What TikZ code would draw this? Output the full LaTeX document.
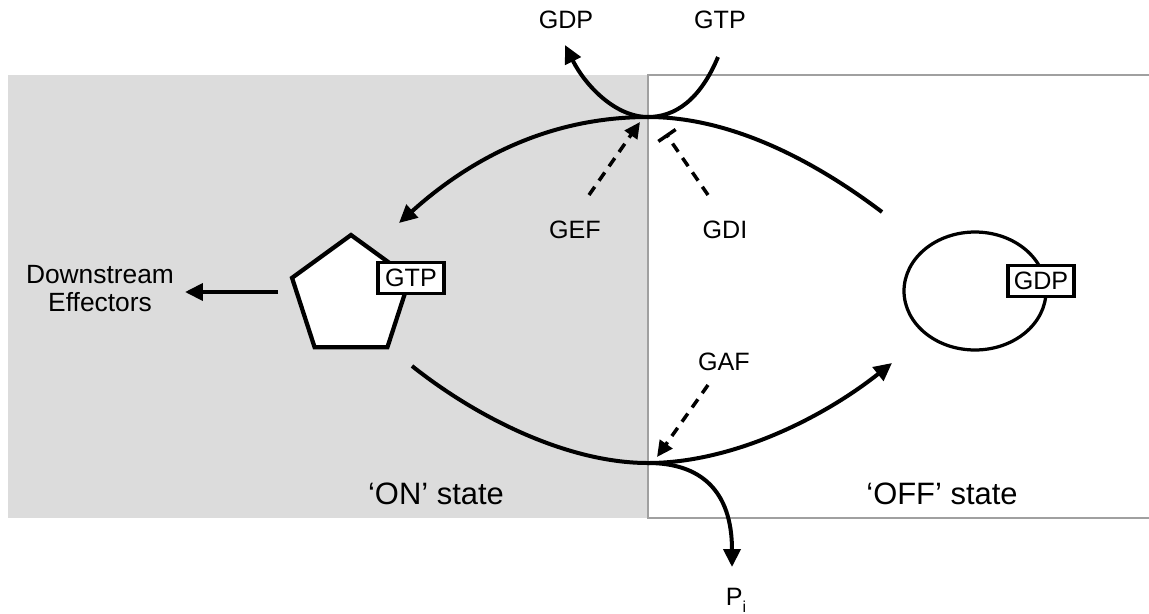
\documentclass[tikz,border=0pt]{standalone}
\usepackage{fontspec}
\setmainfont{Liberation Sans}
\usetikzlibrary{arrows.meta,shapes.geometric}

\definecolor{onshade}{RGB}{220,220,220}
\definecolor{frameline}{RGB}{160,160,160}

\tikzset{
	flow/.style={line width=0.08cm, -{Triangle[length=0.36cm,width=0.34cm]}},
	plain/.style={line width=0.08cm},
	regarrow/.style={line width=0.07cm, dash pattern=on 0.2cm off 0.15cm, -{Triangle[length=0.32cm,width=0.3cm]}},
	regbar/.style={line width=0.07cm, dash pattern=on 0.2cm off 0.15cm, -{Bar[width=0.42cm,line width=0.07cm]}},
	lbl/.style={inner sep=0pt, font=\fontsize{14.3}{16.5}\selectfont},
	statelbl/.style={inner sep=0pt, font=\fontsize{17.6}{20}\selectfont},
	nucbox/.style={draw, fill=white, line width=0.075cm, minimum width=1.32cm, minimum height=0.62cm, inner sep=0pt, font=\fontsize{14.3}{16.5}\selectfont}
}

\begin{document}
\begin{tikzpicture}[x=0.02cm, y=-0.02cm]
		%%%%% START %%%%%
		\useasboundingbox (0, 0) rectangle (1149, 613);
		
		% the two halves
		\fill[onshade] (8, 75) rectangle (648, 518);
		\draw[frameline, line width=0.03cm] (1149, 75) -- (648, 75) -- (648, 518) -- (1149, 518);
		
		% active and inactive G protein
		\node[regular polygon, regular polygon sides=5, minimum size=2.48cm, inner sep=0pt, draw, fill=white, line width=0.085cm] (pent) at (351, 297) {};
		\node[nucbox] (gtpbox) at (411, 278) {GTP};
		\node[ellipse, minimum width=2.84cm, minimum height=2.36cm, inner sep=0pt, draw, line width=0.065cm] (oval) at (975, 291) {};
		\node[nucbox] (gdpbox) at (1041, 281) {GDP};
		
		% labels
		\node[lbl] (gdpout) at (566, 20) {GDP};
		\node[lbl] (gtpin) at (720, 20) {GTP};
		\node[lbl] (gef) at (575, 230) {GEF};
		\node[lbl] (gdi) at (725, 230) {GDI};
		\node[lbl] (gaf) at (724, 362) {GAF};
		\node[lbl] (pi) at (736, 600) {P\raisebox{-0.55ex}{\fontsize{9}{10}\selectfont i}};
		\node[lbl, align=center, font=\fontsize{15}{15.9}\selectfont] (effectors) at (100, 289) {Downstream\\Effectors};
		\node[statelbl] (onlbl) at (436, 494) {‘ON’ state};
		\node[statelbl] (offlbl) at (942, 494) {‘OFF’ state};
		
		% ends of the cycle arcs
		\coordinate (topmid) at (648, 117);
		\coordinate (botmid) at (648, 463);
		\coordinate (offtop) at (882, 212);
		\coordinate (ontop) at (399, 223);
		\coordinate (onbot) at (412, 366);
		\coordinate (offbot) at (892, 363);
		\coordinate (gtpstart) at (718, 57);
		\coordinate (gdpend) at (565, 45);
		\coordinate (piend) at (732, 567);
		
		% exchange: OFF -> ON
		\draw[plain] (offtop) .. controls (800, 150) and (720, 117) .. (topmid);
		\draw[flow] (topmid) .. controls (560, 117) and (480, 150) .. (ontop);
		\draw[plain] (gtpstart) .. controls (700, 100) and (675, 117) .. (topmid);
		\draw[flow] (topmid) .. controls (615, 117) and (585, 85) .. (gdpend);
		
		% hydrolysis: ON -> OFF
		\draw[plain] (onbot) .. controls (480, 420) and (570, 463) .. (botmid);
		\draw[flow] (botmid) .. controls (730, 463) and (820, 420) .. (offbot);
		\draw[flow] (botmid) .. controls (700, 463) and (732, 490) .. (piend);
		
		% signalling out
		\coordinate (effstart) at (278, 292);
		\coordinate (effend) at (185, 292);
		\draw[flow] (effstart) -- (effend);
		
		% regulators
		\coordinate (gefstart) at (589, 195);
		\coordinate (gefend) at (640, 122);
		\coordinate (gdistart) at (708, 195);
		\coordinate (gdiend) at (666, 134);
		\coordinate (gafstart) at (708, 385);
		\coordinate (gafend) at (657, 457);
		\draw[regarrow] (gefstart) -- (gefend);
		\draw[regbar] (gdistart) -- (gdiend);
		\draw[regarrow] (gafstart) -- (gafend);
		
		%%%%% END %%%%%
\end{tikzpicture}
\end{document}
